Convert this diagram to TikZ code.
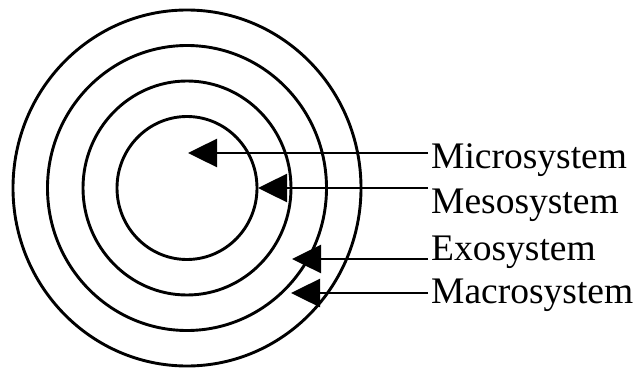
\documentclass[tikz,border=0pt]{standalone}
\usepackage{fontspec}
\setmainfont{Liberation Serif}
\usetikzlibrary{arrows.meta}
\begin{document}
\begin{tikzpicture}[x=1pt,y=-1pt,
  ring/.style={draw=black,line width=2.9pt},
  pointer/.style={draw=black,line width=2.5pt,-{Triangle[length=29pt,width=28pt]}},
  label/.style={anchor=base west,inner sep=0pt,inner xsep=3pt,
    font=\fontsize{37.5}{45}\selectfont}]
  \useasboundingbox (0,0) rectangle (640,369);
  % concentric system rings
  \coordinate (c) at (187,188);
  \draw[ring] (c) ellipse [x radius=174,y radius=178];
  \draw[ring] (c) ellipse [x radius=139.5,y radius=142.5];
  \draw[ring] (c) ellipse [x radius=104,y radius=107];
  \draw[ring] (c) ellipse [x radius=70,y radius=71.5];
  % labels
  \node[label] (micro) at (428,168) {Microsystem};
  \node[label] (meso)  at (428,213) {Mesosystem};
  \node[label] (exo)   at (428,260) {Exosystem};
  \node[label] (macro) at (428,303) {Macrosystem};
  % arrow tips
  \coordinate (tmicro) at (188,153);
  \coordinate (tmeso)  at (258,188);
  \coordinate (texo)   at (292,259);
  \coordinate (tmacro) at (291,293);
  \draw[pointer] (micro.west |- tmicro) -- (tmicro);
  \draw[pointer] (meso.west |- tmeso) -- (tmeso);
  \draw[pointer] (exo.west |- texo) -- (texo);
  \draw[pointer] (macro.west |- tmacro) -- (tmacro);
\end{tikzpicture}
\end{document}
